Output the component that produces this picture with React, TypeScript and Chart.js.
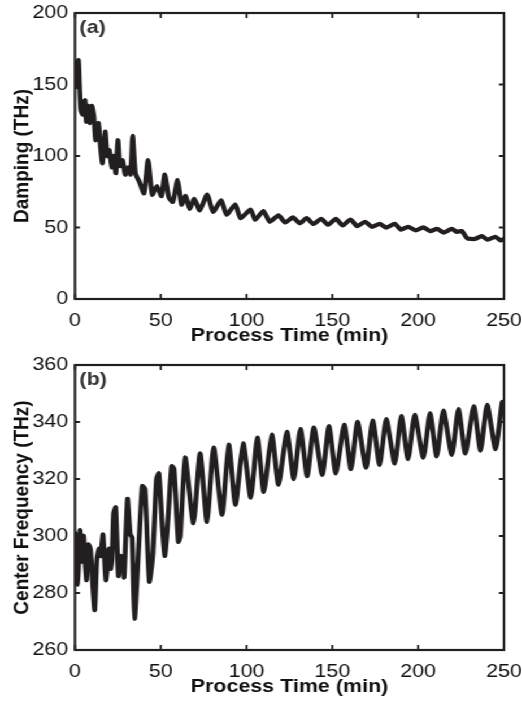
import React, { useEffect, useRef } from 'react';
import { Chart, registerables } from 'chart.js';

Chart.register(...registerables);

// ---------- data ----------
const timeTicks = [0, 50, 100, 150, 200, 250];
const dampingTicks = [0, 50, 100, 150, 200];
const freqTicks = [260, 280, 300, 320, 340, 360];

const dampingTime = [0, 1, 2, 2.6, 3.4, 4.6, 5.9, 6.6, 7.8, 8.6, 9.8, 11, 12, 13.7, 14.8, 16, 17.6, 18.8, 20, 21.5, 22.7, 23.8, 25, 26.2, 27.7, 29.3, 30.9, 32.4, 33.6, 35.2, 37.5, 40.2, 42.6, 45, 47.7, 50.4, 52.3, 54.7, 57, 59.8, 62.1, 64.5, 66.8, 69.5, 72.7, 77, 80.5, 85.2, 88.3, 93.4, 96.5, 102.3, 105, 109.8, 113.5, 118.6, 122.5, 127, 131, 135, 139, 143.5, 147.5, 152, 156, 160.5, 164.5, 169, 173, 177.5, 181.5, 186.3, 190, 194.1, 198.5, 203, 207, 211, 215, 219.6, 222.5, 225.5, 228.5, 233, 237, 240.5, 245, 248, 250];
const dampingValues = [148, 160, 167, 150, 132, 129, 139, 124, 135, 123, 135, 128, 111, 123, 107, 95, 117, 100, 104, 92, 100, 88, 111, 93, 97, 87, 92, 87, 114, 88, 82, 74, 97, 73, 79, 72, 87, 71, 68, 83, 66, 72, 63, 70, 62, 73, 61, 69, 59, 66, 56.5, 62.5, 55.5, 61.5, 54, 58.5, 53.5, 57, 53, 56.5, 52.5, 56, 52, 56, 51.5, 55.5, 51, 54, 50.5, 52.5, 50, 52.5, 48.5, 50.5, 48, 50, 47.5, 49, 46.5, 49, 47, 47.5, 42.5, 42, 44, 41.5, 43.5, 41, 42];

const freqTime = [0, 1.6, 2.9, 4.3, 5, 6.7, 7.8, 9, 11.4, 12.7, 14, 15, 16.3, 18, 19.8, 20.8, 21.6, 22.5, 23.7, 25.3, 26.5, 27.8, 28.6, 30.6, 32.2, 33.3, 34.7, 37.3, 39.2, 40.8, 43.3, 45.3, 47.5, 48.9, 50.8, 52.4, 54.3, 56.3, 57.7, 60.2, 61.4, 64.2, 69, 72.9, 76.9, 80.8, 85.7, 89.6, 93.5, 98, 102.4, 106.3, 110, 114.7, 118.6, 123.5, 127.5, 131.4, 135.3, 139.2, 144.1, 148, 152, 156.9, 160.8, 164.7, 169.6, 173.5, 177.5, 181.4, 186.3, 190.2, 194.1, 198, 203, 206.9, 210.8, 214.7, 219.6, 223.5, 227.5, 232.4, 236.3, 240.2, 245.1, 249, 250];
const freqValues = [301, 283, 302, 291, 300, 284.5, 297, 295.5, 274, 291.5, 295.5, 293, 300.5, 284.5, 295.5, 288.5, 292, 308, 310, 286, 293, 292, 285.5, 313, 300.5, 299.5, 271, 298, 317.5, 316.5, 284, 293, 320, 322, 304, 293, 307, 324.5, 323.5, 298, 300, 327.5, 304.5, 329, 305, 331, 307.5, 332, 311, 332.5, 313.5, 334.5, 315.5, 335.5, 318, 336.5, 320, 337.5, 321, 338, 321.5, 338.5, 322, 339, 323.5, 340, 324, 340.5, 325, 341, 325.5, 342, 327, 342.5, 327.5, 343, 328, 344, 328.5, 344.5, 329, 345.5, 330, 346, 330.5, 347, 343];

// ---------- layout ----------
const SX = 1.13; // horizontal stretch of the reference figure
const W = 462;
const H1 = 355;
const H2 = 354;
const FONT = '"Liberation Sans", Arial, Helvetica, sans-serif';
const INK = '#231f20';

const framePlugin = {
  id: 'frame',
  afterDraw(chart: any, _args: any, opts: any) {
    const { ctx, chartArea: a, scales } = chart;
    ctx.save();
    ctx.strokeStyle = INK;
    ctx.lineWidth = 1.8;
    ctx.lineCap = 'butt';
    const tl = 5;
    const tlx = tl / SX;
    ctx.beginPath();
    scales.x.ticks.forEach((t: any) => {
      const px = scales.x.getPixelForValue(t.value);
      ctx.moveTo(px, a.bottom);
      ctx.lineTo(px, a.bottom - tl);
      ctx.moveTo(px, a.top);
      ctx.lineTo(px, a.top + tl);
    });
    scales.y.ticks.forEach((t: any) => {
      const py = scales.y.getPixelForValue(t.value);
      ctx.moveTo(a.left, py);
      ctx.lineTo(a.left + tlx, py);
      ctx.moveTo(a.right, py);
      ctx.lineTo(a.right - tlx, py);
    });
    ctx.stroke();
    ctx.lineWidth = 2.2;
    ctx.strokeRect(a.left, a.top, a.right - a.left, a.bottom - a.top);
    ctx.fillStyle = '#333';
    ctx.font = `bold 19px ${FONT}`;
    ctx.textBaseline = 'top';
    ctx.textAlign = 'left';
    ctx.fillText(opts.label, a.left + 4, a.top + 5);
    ctx.restore();
  },
};

function makeConfig(p: {
  time: number[];
  values: number[];
  yMin: number;
  yMax: number;
  yTicks: number[];
  yTitle: string;
  label: string;
  padTop: number;
  xHeight: number;
  xTitlePad: number;
}) {
  const tickFont = { family: FONT, size: 19, weight: 'normal' as const };
  const titleFont = { family: FONT, size: 19, weight: 'bold' as const };
  return {
    type: 'line' as const,
    data: {
      datasets: [
        {
          data: p.time.map((t, i) => ({ x: t, y: p.values[i] })),
          borderColor: INK,
          borderWidth: 4.3,
          pointRadius: 0,
          tension: 0.2,
          borderJoinStyle: 'round' as const,
          borderCapStyle: 'round' as const,
          fill: false,
        },
      ],
    },
    options: {
      animation: false as const,
      responsive: false,
      devicePixelRatio: 1,
      layout: { padding: { top: p.padTop, right: 16, left: 0, bottom: 0 } },
      plugins: {
        legend: { display: false },
        tooltip: { enabled: false },
        frame: { label: p.label },
      },
      scales: {
        x: {
          type: 'linear' as const,
          min: 0,
          max: 250,
          afterBuildTicks: (s: any) => {
            s.ticks = timeTicks.map((v) => ({ value: v }));
          },
          ticks: { font: tickFont, color: '#111', padding: 10, maxRotation: 0 },
          grid: { display: false, drawTicks: false },
          border: { display: false },
          title: {
            display: true,
            text: 'Process Time (min)',
            font: titleFont,
            color: '#111',
            padding: { top: 0, bottom: p.xTitlePad },
          },
          afterFit: (s: any) => {
            s.height = p.xHeight;
            s.paddingLeft = 0;
            s.paddingRight = 0;
          },
        },
        y: {
          type: 'linear' as const,
          min: p.yMin,
          max: p.yMax,
          afterBuildTicks: (s: any) => {
            s.ticks = p.yTicks.map((v) => ({ value: v }));
          },
          ticks: { font: tickFont, color: '#111', padding: 6 },
          grid: { display: false, drawTicks: false },
          border: { display: false },
          title: {
            display: true,
            text: p.yTitle,
            font: titleFont,
            color: '#111',
            padding: { top: 8, bottom: 0 },
          },
          afterFit: (s: any) => {
            s.width = 75 / SX;
            s.paddingTop = 0;
            s.paddingBottom = 0;
          },
        },
      },
    },
    plugins: [framePlugin],
  };
}

export default function App() {
  const ref1 = useRef<HTMLCanvasElement>(null);
  const ref2 = useRef<HTMLCanvasElement>(null);

  useEffect(() => {
    const c1 = new Chart(
      ref1.current as HTMLCanvasElement,
      makeConfig({
        time: dampingTime,
        values: dampingValues,
        yMin: 0,
        yMax: 200,
        yTicks: dampingTicks,
        yTitle: 'Damping (THz)',
        label: '(a)',
        padTop: 13,
        xHeight: H1 - 299,
        xTitlePad: 8,
      }) as any
    );
    const c2 = new Chart(
      ref2.current as HTMLCanvasElement,
      makeConfig({
        time: freqTime,
        values: freqValues,
        yMin: 260,
        yMax: 360,
        yTicks: freqTicks,
        yTitle: 'Center Frequency (THz)',
        label: '(b)',
        padTop: 365 - H1,
        xHeight: H2 - (650 - H1),
        xTitlePad: 11,
      }) as any
    );
    return () => {
      c1.destroy();
      c2.destroy();
    };
  }, []);

  return (
    <div
      style={{
        position: 'absolute',
        left: 0,
        top: 0,
        width: W,
        height: H1 + H2,
        transform: `scaleX(${SX})`,
        transformOrigin: '0 0',
        background: '#fff',
      }}
    >
      <canvas ref={ref1} width={W} height={H1} style={{ display: 'block', width: W, height: H1 }} />
      <canvas ref={ref2} width={W} height={H2} style={{ display: 'block', width: W, height: H2 }} />
    </div>
  );
}
